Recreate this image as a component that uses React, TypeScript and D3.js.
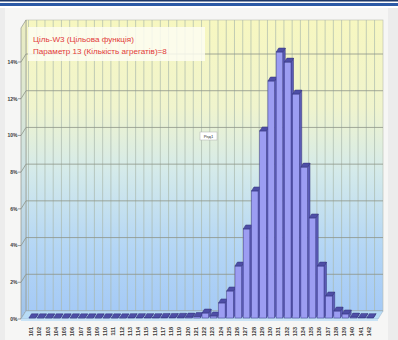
import React from "react";
import * as d3 from "d3";

// Histogram bins (category labels along the floor)
const categories = [
  "101", "102", "103", "104", "105", "106", "107", "108", "109", "110",
  "111", "112", "113", "114", "115", "116", "117", "118", "119", "120",
  "121", "122", "123", "124", "125", "126", "127", "128", "129", "130",
  "131", "132", "133", "134", "135", "136", "137", "138", "139", "140",
  "141", "142",
];

// Share of runs falling into each bin, %
const shares = [
  0.01, 0.01, 0.01, 0.01, 0.01, 0.01, 0.01, 0.01, 0.01, 0.01,
  0.01, 0.01, 0.02, 0.02, 0.02, 0.02, 0.03, 0.03, 0.04, 0.05,
  0.08, 0.27, 0.11, 0.82, 1.47, 2.83, 4.85, 6.92, 10.19, 12.91,
  14.49, 13.94, 12.2, 8.22, 5.45, 2.83, 1.2, 0.38, 0.22, 0.05,
  0.03, 0.02,
];

const yTicks = [0, 2, 4, 6, 8, 10, 12, 14];
const yTickLabels = ["0%", "2%", "4%", "6%", "8%", "10%", "12%", "14%"];

const titleLines = [
  "Ціль-W3 (Цільова функція)",
  "Параметр 13 (Кількість агрегатів)=8",
];
const seriesName = "Ряд1";

export default function App() {
  const W = 398;
  const H = 340;

  // back wall of the 3D plot
  const wall = { x0: 26, x1: 383, y0: 20, y1: 311 };
  // front plane sits lower-left of the back wall
  const fdx = -5;
  const fdy = 8;

  const yBack = d3.scaleLinear().domain([0, 14]).range([311, 54]);
  const yFront = (v: number) => yBack(v) + 7;

  const x = d3
    .scaleBand<string>()
    .domain(categories)
    .range([29, 373.4])
    .paddingInner(0.2)
    .paddingOuter(0);
  const bw = x.bandwidth();
  const step = x.step();

  const depthX = 2.5;
  const depthY = -4;

  const font = "'Liberation Sans', Arial, sans-serif";

  const gridXs = d3.range(categories.length + 1).map((i) => 29 + i * step - 0.5);

  return (
    <div style={{ position: "absolute", left: 0, top: 0 }}>
      <svg width={W} height={H} style={{ display: "block" }}>
        <defs>
          <linearGradient id="wallGrad" x1="0" y1="0" x2="0" y2="1">
            <stop offset="0" stopColor="#f7f7c0" />
            <stop offset="0.3" stopColor="#f0f4cd" />
            <stop offset="0.52" stopColor="#d4eaea" />
            <stop offset="0.78" stopColor="#b4d6f5" />
            <stop offset="1" stopColor="#a5caf6" />
          </linearGradient>
          <linearGradient id="sideGrad" x1="0" y1="0" x2="0" y2="1">
            <stop offset="0" stopColor="#ecedc0" />
            <stop offset="0.5" stopColor="#cde2e4" />
            <stop offset="1" stopColor="#9fc3ec" />
          </linearGradient>
        </defs>

        {/* page and chart area */}
        <rect x={0} y={0} width={W} height={H} fill="#ececec" />
        <rect x={5} y={8} width={383} height={H - 8} fill="#f6f6f5" />
        <rect x={0} y={0} width={W} height={8} fill="#ffffff" />
        <rect x={0} y={0} width={W} height={1.5} fill="#1e3868" />
        <rect x={0} y={3} width={W} height={3} fill="#2c5aa6" />

        {/* back wall */}
        <rect
          x={wall.x0}
          y={wall.y0}
          width={wall.x1 - wall.x0}
          height={wall.y1 - wall.y0}
          fill="url(#wallGrad)"
          stroke="#b9bdb0"
          strokeWidth={0.6}
        />
        {/* side wall */}
        <path
          d={`M${wall.x0},${wall.y0} L${wall.x0 + fdx},${wall.y0 + fdy} L${wall.x0 + fdx},${
            wall.y1 + fdy
          } L${wall.x0},${wall.y1} Z`}
          fill="url(#sideGrad)"
          stroke="#8f948a"
          strokeWidth={0.7}
        />

        {/* vertical category gridlines */}
        {gridXs.map((gx, i) =>
          gx > wall.x0 && gx < wall.x1 ? (
            <line
              key={`vg${i}`}
              x1={gx}
              x2={gx}
              y1={wall.y0}
              y2={wall.y1}
              stroke="#a9b8ac"
              strokeOpacity={0.75}
              strokeWidth={0.9}
            />
          ) : null
        )}

        {/* horizontal value gridlines */}
        {yTicks.map((t) => (
          <g key={`hg${t}`}>
            <line
              x1={wall.x0}
              x2={wall.x1}
              y1={yBack(t)}
              y2={yBack(t)}
              stroke="#8e9488"
              strokeWidth={0.8}
            />
            <line
              x1={wall.x0 + fdx}
              x2={wall.x0}
              y1={yBack(t) + fdy}
              y2={yBack(t)}
              stroke="#8e9488"
              strokeWidth={0.8}
            />
          </g>
        ))}

        {/* floor */}
        <path
          d={`M${wall.x0},${wall.y1} L${wall.x1},${wall.y1} L${wall.x1 + fdx},${wall.y1 + fdy} L${
            wall.x0 + fdx
          },${wall.y1 + fdy} Z`}
          fill="#b8dcf6"
          stroke="#9fb8d0"
          strokeWidth={0.6}
        />
        <rect
          x={wall.x0 + fdx}
          y={wall.y1 + fdy}
          width={wall.x1 - wall.x0}
          height={2}
          fill="#c9e3f6"
        />

        {/* title box */}
        <rect x={28} y={27} width={177} height={34} fill="#fdfdf2" fillOpacity={0.85} />
        {titleLines.map((t, i) => (
          <text
            key={`tl${i}`}
            x={33}
            y={42 + i * 12}
            fontFamily={font}
            fontSize={8.1}
            fill="#e23a3a"
          >
            {t}
          </text>
        ))}

        {/* legend */}
        <rect x={200} y={132} width={17} height={8} fill="#ffffff" stroke="#b0b0b0" strokeWidth={0.5} />
        <text x={208.5} y={138.3} fontFamily={font} fontSize={4.2} fill="#333" textAnchor="middle">
          {seriesName}
        </text>

        {/* bars */}
        {categories.map((c, i) => {
          const v = shares[i];
          const x0 = x(c) as number;
          const yt = yFront(v);
          const yb = yFront(0);
          return (
            <g key={`b${i}`}>
              <path
                d={`M${x0 + bw},${yt} L${x0 + bw + depthX},${yt + depthY} L${x0 + bw + depthX},${
                  yb + depthY
                } L${x0 + bw},${yb} Z`}
                fill="#5c5cb6"
                stroke="#33337a"
                strokeWidth={0.5}
              />
              <rect
                x={x0}
                y={yt}
                width={bw}
                height={yb - yt}
                fill="#9c9df2"
                stroke="#3c3c8c"
                strokeWidth={0.5}
              />
              <path
                d={`M${x0},${yt} L${x0 + bw},${yt} L${x0 + bw + depthX},${yt + depthY} L${
                  x0 + depthX
                },${yt + depthY} Z`}
                fill="#4e4ea6"
                stroke="#33337a"
                strokeWidth={0.5}
              />
            </g>
          );
        })}

        {/* value axis labels */}
        {yTicks.map((t, i) => (
          <g key={`yl${t}`}>
            <line
              x1={wall.x0 + fdx - 3}
              x2={wall.x0 + fdx}
              y1={yBack(t) + fdy}
              y2={yBack(t) + fdy}
              stroke="#666"
              strokeWidth={0.6}
            />
            <text
              x={wall.x0 + fdx - 3.5}
              y={yBack(t) + fdy + 1.8}
              fontFamily={font}
              fontSize={5}
              fontWeight="bold"
              fill="#3a3a3a"
              textAnchor="end"
            >
              {yTickLabels[i]}
            </text>
          </g>
        ))}

        {/* category axis labels */}
        {categories.map((c) => {
          const cx = (x(c) as number) + bw / 2 - 1;
          const cy = 327;
          return (
            <text
              key={`xl${c}`}
              transform={`translate(${cx + 1.8},${cy}) rotate(-90)`}
              fontFamily={font}
              fontSize={5.5}
              fontWeight="bold"
              fill="#3a3a3a"
              textAnchor="end"
            >
              {c}
            </text>
          );
        })}
      </svg>
    </div>
  );
}
